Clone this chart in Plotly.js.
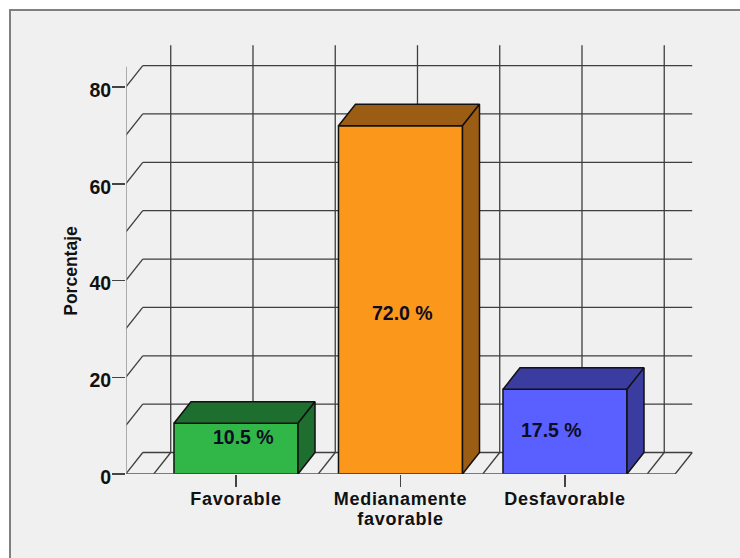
<!DOCTYPE html>
<html>
<head>
<meta charset="utf-8">
<script src="https://cdn.plot.ly/plotly-3.0.1.min.js"></script>
<style>
  html, body { margin: 0; padding: 0; background: #fff; }
  #chart { width: 740px; height: 558px; }
  .xtick text { letter-spacing: 0.7px; }
</style>
</head>
<body>
<div id="chart"></div>
<script>
// Survey result by category, drawn as extruded bars on a box-shaped grid.
const categories = ["Favorable", "Medianamente<br>favorable", "Desfavorable"];
const percentages = [10.5, 72.0, 17.5];
const frontColors = ["#31b748", "#fb981c", "#5a60ff"];
const shadeColors = ["#1e6e2f", "#9b5d13", "#3a3d9f"];
const yTickValues = [0, 20, 40, 60, 80];
const wallLevels = [0, 10, 20, 30, 40, 50, 60, 70, 80];
const labelOffsetX = [0.043, 0.015, -0.085];
const labelHeights = [7.6, 33.3, 9.1];

// Extrusion and grid geometry, in axis units.
const barWidth = 0.754;
const depthX = 0.1033;
const depthY = 4.44;
const wallHalfSpan = 1.67;
const wallTop = 84.2;
const positions = categories.map((_, i) => i);
const wallLeft = 1 - wallHalfSpan;
const wallRight = 1 + wallHalfSpan;

const gridStyle = { color: "#3e3e3e", width: 1.3 };
const segment = (x0, y0, x1, y1) => ({
  type: "line", xref: "x", yref: "y", layer: "below",
  x0, y0, x1, y1, line: gridStyle
});

const shapes = [];
// Panel background with its grey border.
shapes.push({
  type: "rect", xref: "paper", yref: "paper", layer: "below",
  x0: (10 - 126) / 574, x1: (780 - 126) / 574,
  y0: (474 - 600) / 434, y1: (474 - 10) / 434,
  fillcolor: "#f0f0f0", line: { color: "#808080", width: 2 }
});
wallLevels.forEach(level => {
  shapes.push(segment(wallLeft, level, wallLeft + depthX, level + depthY));
  shapes.push(segment(wallLeft + depthX, level + depthY, wallRight + depthX, level + depthY));
});
const verticals = [-0.5, 0, 0.5, 1, 1.5, 2, 2.5];
verticals.forEach(v => {
  shapes.push(segment(v + depthX, depthY, v + depthX, wallTop + depthY));
  shapes.push(segment(v, 0, v + depthX, depthY));
});
shapes.push(segment(wallRight, 0, wallRight + depthX, depthY));

const traces = [];
traces.push({
  type: "bar", x: positions, y: percentages, width: barWidth, cliponaxis: false,
  marker: { color: frontColors, line: { color: "#111111", width: 1.5 } },
  hoverinfo: "skip", showlegend: false
});
// Side wall and floor edge of the grid box.
traces.push({
  type: "scatter", mode: "lines", x: [wallLeft, wallLeft], y: [0, wallTop],
  line: { color: "#9a9a9a", width: 2 }, cliponaxis: false, hoverinfo: "skip", showlegend: false
});
traces.push({
  type: "scatter", mode: "lines", x: [wallLeft, wallRight], y: [0, 0],
  line: { color: "#555555", width: 1.4 }, cliponaxis: false, hoverinfo: "skip", showlegend: false
});
// Top and side faces of every bar.
percentages.forEach((value, i) => {
  const left = positions[i] - barWidth / 2;
  const right = positions[i] + barWidth / 2;
  const outline = { color: "#111111", width: 1.5 };
  traces.push({
    type: "scatter", mode: "lines", fill: "toself", fillcolor: shadeColors[i], line: outline,
    x: [left, right, right + depthX, left + depthX, left],
    y: [value, value, value + depthY, value + depthY, value],
    hoverinfo: "skip", showlegend: false
  });
  traces.push({
    type: "scatter", mode: "lines", fill: "toself", fillcolor: shadeColors[i], line: outline,
    x: [right, right + depthX, right + depthX, right, right],
    y: [0, depthY, value + depthY, value, 0],
    hoverinfo: "skip", showlegend: false
  });
});

const annotations = percentages.map((value, i) => ({
  x: positions[i] + labelOffsetX[i], y: labelHeights[i], xref: "x", yref: "y",
  text: value.toFixed(1) + " %", showarrow: false,
  font: { family: "Liberation Sans, Arial, sans-serif", size: 19.5, color: "#0c0c24", weight: 700 }
}));

const layout = {
  width: 740, height: 558,
  margin: { l: 126, r: 40, t: 40, b: 84, pad: 0 },
  paper_bgcolor: "#ffffff", plot_bgcolor: "rgba(0,0,0,0)",
  showlegend: false, bargap: 0,
  font: { family: "Liberation Sans, Arial, sans-serif", color: "#111111" },
  xaxis: {
    range: [-0.6687, 2.8207], tickmode: "array", tickvals: positions, ticktext: categories,
    ticks: "outside", ticklen: 12, tickwidth: 1.5, tickcolor: "#444444",
    showgrid: false, zeroline: false, showline: false, tickangle: 0,
    ticklabelstandoff: -4,
    tickfont: { size: 18, weight: 700, color: "#111111" }
  },
  yaxis: {
    range: [0, 89.72], tickmode: "array", tickvals: yTickValues,
    ticks: "outside", ticklen: 13, tickwidth: 1.5, tickcolor: "#444444",
    showgrid: false, zeroline: false, showline: false,
    ticklabelstandoff: -3, ticklabelshift: 3,
    tickfont: { size: 19.5, weight: 700, color: "#111111" },
    title: { text: "Porcentaje", standoff: 7, font: { size: 17.5, weight: 700, color: "#111111" } }
  },
  shapes, annotations
};

Plotly.newPlot("chart", traces, layout, { displayModeBar: false, staticPlot: true }).then(gd => {
  // Tighter line spacing on two-line category labels.
  gd.querySelectorAll(".xtick text tspan.line").forEach(line => {
    if (line.previousElementSibling) line.setAttribute("dy", "20px");
  });
  // The axis title sits a little below the middle of the axis.
  const title = gd.querySelector(".ytitle");
  if (title) {
    const x = parseFloat(title.getAttribute("x"));
    const y = parseFloat(title.getAttribute("y")) + 14;
    title.setAttribute("y", y);
    title.setAttribute("transform", `rotate(-90,${x},${y})`);
  }
});
</script>
</body>
</html>
